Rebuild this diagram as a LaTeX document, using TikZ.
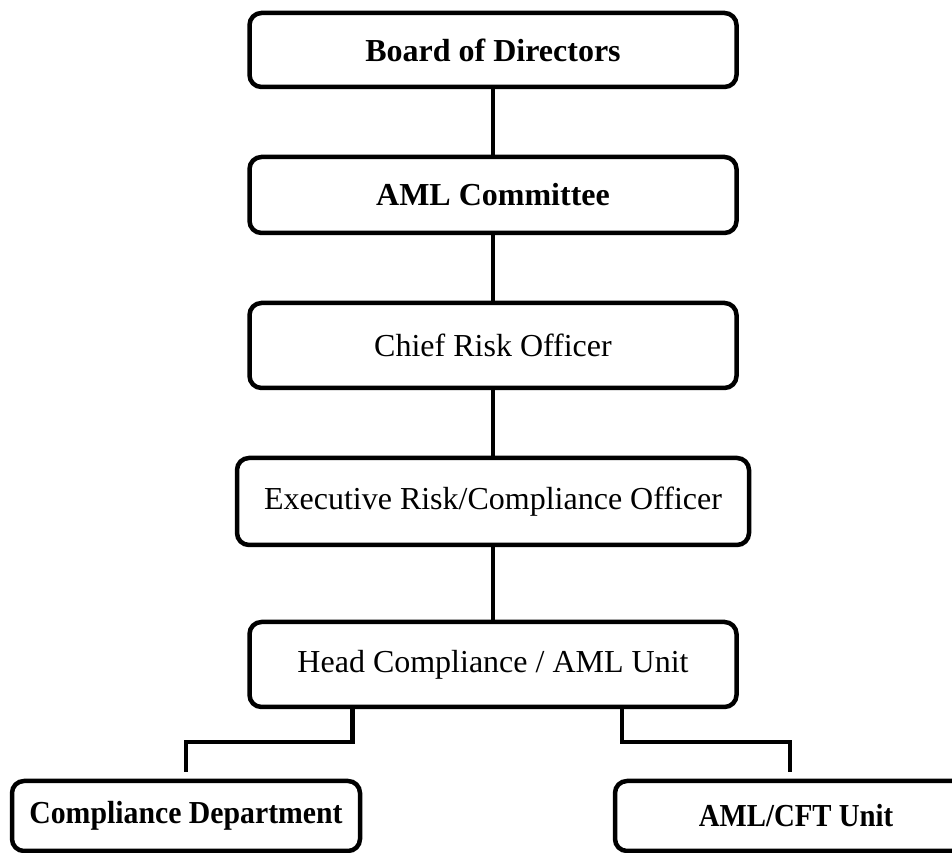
\documentclass[tikz,border=0pt]{standalone}
\usepackage{fontspec}
\setmainfont{Liberation Serif}

\begin{document}
\begin{tikzpicture}[
    x=1pt, y=1pt,
    box/.style={draw, line width=4.5pt, rounded corners=12pt, minimum width=487pt, align=center, font=\fontsize{32}{38}\selectfont},
    boldbox/.style={box, font=\fontsize{32}{38}\selectfont\bfseries},
    link/.style={line width=4.5pt}
]
    \useasboundingbox (0,0) rectangle (952,853);

    % Reporting chain, top to bottom
    \node[boldbox, minimum height=74pt] (bod) at (493,803) {Board of Directors};
    \node[boldbox, minimum height=76pt] (amlc) at (493,658) {AML Committee};
    \node[box, minimum height=85pt] (cro) at (493,507.5) {Chief Risk Officer};
    \node[box, minimum height=87pt, minimum width=512pt] (erco) at (493,351.5) {Executive Risk/Compliance Officer};
    \node[box, minimum height=85pt] (head) at (493,188.5) {Head Compliance / AML Unit};

    % Units under the head
    \node[boldbox, minimum height=70pt, minimum width=348pt] (cdept) at (186,37) {\scalebox{0.93}[1]{Compliance Department}};
    \node[boldbox, minimum height=70pt, minimum width=362pt] (cft) at (796,37) {\scalebox{0.9}[1]{AML/CFT Unit}};

    % Vertical links
    \foreach \a/\b in {bod/amlc, amlc/cro, cro/erco, erco/head} {
        \draw[link] (\a.south) -- (\b.north);
    }

    % Branches
    \draw[link] ([xshift=105pt]head.south west) -- ++(0,-33) -| ([yshift=7pt]cdept.north);
    \draw[link] ([xshift=-117pt]head.south east) -- ++(0,-33) -| ([xshift=-6pt,yshift=7pt]cft.north);
\end{tikzpicture}
\end{document}
